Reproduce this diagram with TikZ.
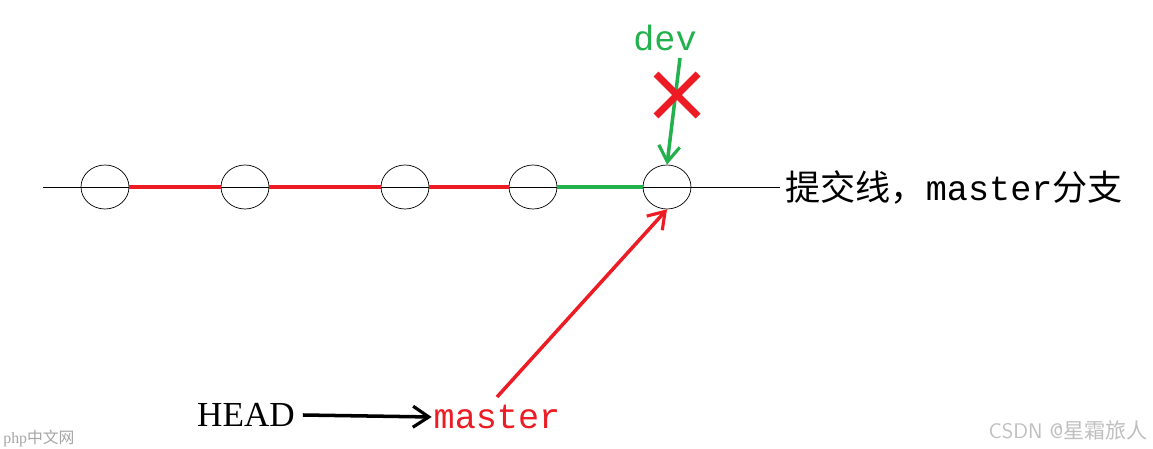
\documentclass[tikz,border=0pt]{standalone}
\usepackage{fontspec}
\setmainfont{Liberation Serif}
\setmonofont{Liberation Mono}
\newfontfamily\cjk{Noto Sans CJK SC}
\usetikzlibrary{positioning,arrows.meta,shapes.geometric}
\definecolor{gitred}{RGB}{237,28,36}
\definecolor{gitgreen}{RGB}{34,177,76}

\begin{document}
\begin{tikzpicture}[x=0.02cm,y=-0.02cm]
  \tikzset{
    commit/.style={draw, ellipse, thin, minimum width=0.96cm, minimum height=0.88cm, inner sep=0pt},
    ptr/.style={font=\ttfamily\fontsize{20}{22}\selectfont, inner sep=1pt},
    tip/.style={-{Straight Barb[length=9pt,width=12pt,line width=1.8pt]}, line width=2pt}
  }
  \useasboundingbox (0,0) rectangle (1153,449);

  \coordinate (start) at (43,187);
  \coordinate (end) at (780,187);
  \draw[thin] (start) -- (end);

  \node[commit] (c1) at (105,187) {};
  \node[commit] (c2) at (245,187) {};
  \node[commit] (c3) at (405,187) {};
  \node[commit] (c4) at (533,187) {};
  \node[commit] (c5) at (667,187) {};

  % commit line
  \draw[gitred, line width=2pt] (c1) -- (c2) (c2) -- (c3) (c3) -- (c4);
  \draw[gitgreen, line width=2pt] (c4) -- (c5);

  \node[anchor=west, font=\fontsize{20}{22}\selectfont, inner sep=0pt] (label) at (785,187)
    {{\cjk 提交线，}\texttt{master}{\cjk 分支}};

  % pointers
  \node[ptr, text=gitgreen] (dev) at (665,38) {dev};
  \node[ptr, text=gitred] (master) at (497,417) {master};
  \node[font=\fontsize{20}{22}\selectfont, inner sep=1pt] (head) at (246,415) {HEAD};

  \coordinate (devtop) at (680,58);
  \draw[tip, gitgreen] (devtop) -- (c5.north);
  \coordinate (xa) at (656,74); \coordinate (xb) at (698,116);
  \coordinate (xc) at (698,74); \coordinate (xd) at (656,116);
  \draw[gitred, line width=4pt] (xa) -- (xb) (xc) -- (xd);
  \coordinate (mtop) at (497,397);
  \draw[tip, gitred] (mtop) -- (c5.south);
  \draw[tip] (head.east) ++(6,0) coordinate (hs) (hs) -- (master.west);

  % watermarks
  \node[anchor=west, font=\fontsize{9}{10}\selectfont, text=gray!70, inner sep=0pt] (php) at (3,438) {php{\cjk 中文网}};
  \node[anchor=east, font=\fontsize{12}{14}\selectfont\sffamily, text=gray!50, inner sep=0pt] (csdn) at (1148,430) {CSDN @{\cjk 星霜旅人}};
\end{tikzpicture}
\end{document}
